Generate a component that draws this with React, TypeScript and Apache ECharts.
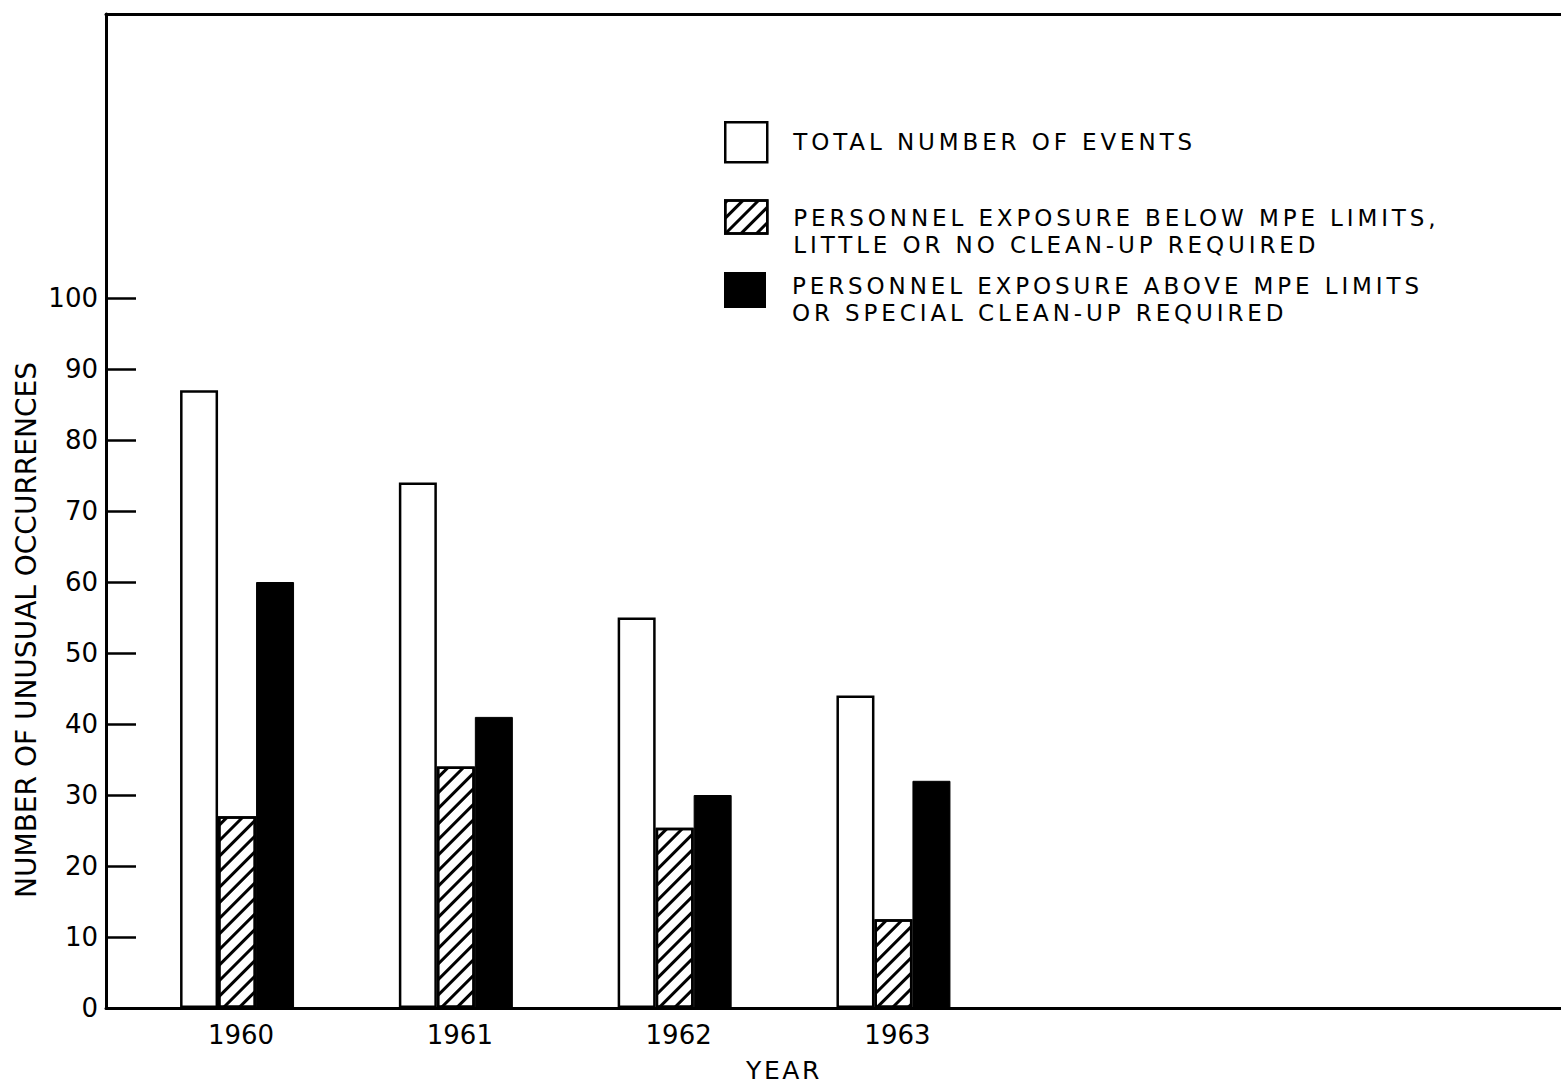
import React, { useEffect, useRef } from "react";
import * as echarts from "echarts";

const years = [1960, 1961, 1962, 1963];
const totalEvents = [87, 74, 55, 44];
const belowLimits = [27, 34, 25.4, 12.5];
const aboveLimits = [60, 41, 30, 32];
const yTickValues = [0, 10, 20, 30, 40, 50, 60, 70, 80, 90, 100];

const NAME_TOTAL = "TOTAL NUMBER OF EVENTS";
const NAME_BELOW = "PERSONNEL EXPOSURE BELOW MPE LIMITS,\nLITTLE OR NO CLEAN-UP REQUIRED";
const NAME_ABOVE = "PERSONNEL EXPOSURE ABOVE MPE LIMITS\nOR SPECIAL CLEAN-UP REQUIRED";

const FONT = "DejaVu Sans";
// wide spacing of the stencil lettering for the legend (23px) and the x-axis title (25px)
const CSS =
  `#chartroot text[style*="23px"]{letter-spacing:3.9px;}` +
  `#chartroot text[style*="25px"]{letter-spacing:2.6px;}`;

export default function App() {
  const ref = useRef<HTMLDivElement>(null);
  useEffect(() => {
    if (!ref.current) return;
    const chart = echarts.init(ref.current, null, { renderer: "svg" });
    const pair = (arr: number[]) => years.map((y, i) => [y, arr[i]]);
    const hatch = {
      symbol: "rect",
      color: "#000",
      backgroundColor: "#fff",
      dashArrayX: [1, 0],
      dashArrayY: [2.5, 7.5],
      rotation: -Math.PI / 4,
    };
    const legendBase = {
      orient: "vertical",
      left: 724,
      itemWidth: 42,
      padding: 0,
      selectedMode: false,
      icon: "rect",
    };
    const option: any = {
      animation: false,
      backgroundColor: "#fff",
      textStyle: { fontFamily: FONT },
      grid: { left: 106, right: 0, top: 14, bottom: 78, containLabel: false },
      xAxis: [
        {
          type: "value",
          min: 1959.401,
          max: 1966.051,
          axisLine: { show: true, lineStyle: { color: "#000", width: 3 } },
          axisTick: { show: false },
          splitLine: { show: false },
          axisLabel: {
            customValues: years,
            color: "#000",
            fontSize: 26,
            fontFamily: FONT,
            margin: 14,
            padding: [0, 0, 0, 8],
            formatter: (v: number) => String(v),
          },
        },
        {
          type: "value",
          position: "top",
          min: 1959.401,
          max: 1966.051,
          axisLine: { show: true, onZero: false, lineStyle: { color: "#000", width: 3 } },
          axisTick: { show: false },
          axisLabel: { show: false },
          splitLine: { show: false },
        },
      ],
      yAxis: {
        type: "value",
        min: 0,
        max: 140,
        interval: 10,
        axisLine: { show: true, lineStyle: { color: "#000", width: 3 } },
        axisTick: {
          show: true,
          inside: true,
          length: 30,
          customValues: yTickValues,
          lineStyle: { color: "#000", width: 2.5 },
        },
        axisLabel: {
          customValues: yTickValues,
          color: "#000",
          fontSize: 26,
          fontFamily: FONT,
          margin: 8,
        },
        splitLine: { show: false },
      },
      legend: [
        {
          ...legendBase,
          top: 121,
          itemHeight: 40,
          data: [NAME_TOTAL],
          itemStyle: { color: "#fff", borderColor: "#000", borderWidth: 2.5 },
          textStyle: { fontSize: 23, color: "#000", fontFamily: FONT, padding: [0, 0, 0, 21] },
        },
        {
          ...legendBase,
          top: 176,
          itemHeight: 33,
          data: [NAME_BELOW],
          formatter: (n: string) => "{s| }\n" + n,
          itemStyle: { color: "#fff", borderColor: "#000", borderWidth: 2.5, decal: hatch },
          textStyle: {
            fontSize: 23,
            lineHeight: 27,
            color: "#000",
            fontFamily: FONT,
            padding: [0, 0, 0, 21],
            rich: { s: { fontSize: 1, lineHeight: 28 } },
          },
        },
        {
          ...legendBase,
          top: 253.5,
          itemHeight: 36,
          data: [NAME_ABOVE],
          formatter: (n: string) => "{s| }\n" + n,
          itemStyle: { color: "#000", borderColor: "#000", borderWidth: 0 },
          textStyle: {
            fontSize: 23,
            lineHeight: 27,
            color: "#000",
            fontFamily: FONT,
            padding: [0, 0, 0, 21],
            rich: { s: { fontSize: 1, lineHeight: 19 } },
          },
        },
      ],
      graphic: [
        {
          type: "text",
          x: 26,
          y: 630,
          rotation: Math.PI / 2,
          style: {
            text: "NUMBER OF UNUSUAL OCCURRENCES",
            fontSize: 28,
            fontFamily: FONT,
            fill: "#000",
            align: "center",
            verticalAlign: "middle",
          },
        },
        {
          type: "text",
          x: 784,
          y: 1070,
          style: {
            text: "YEAR",
            fontSize: 25,
            fontFamily: FONT,
            fill: "#000",
            align: "center",
            verticalAlign: "middle",
          },
        },
      ],
      series: [
        {
          name: NAME_TOTAL,
          type: "bar",
          barWidth: 38,
          barGap: "0%",
          data: pair(totalEvents),
          itemStyle: { color: "#fff", borderColor: "#000", borderWidth: 2.5 },
        },
        {
          name: NAME_BELOW,
          type: "bar",
          barWidth: 38,
          barGap: "0%",
          data: pair(belowLimits),
          itemStyle: { color: "#fff", borderColor: "#000", borderWidth: 2.5, decal: hatch },
        },
        {
          name: NAME_ABOVE,
          type: "bar",
          barWidth: 38,
          barGap: "0%",
          data: pair(aboveLimits),
          itemStyle: { color: "#000", borderColor: "#000", borderWidth: 1 },
        },
      ],
    };
    chart.setOption(option);
    return () => chart.dispose();
  }, []);
  return (
    <>
      <style>{CSS}</style>
      <div
        id="chartroot"
        ref={ref}
        style={{ position: "absolute", left: 0, top: 0, width: 1561, height: 1086 }}
      />
    </>
  );
}
